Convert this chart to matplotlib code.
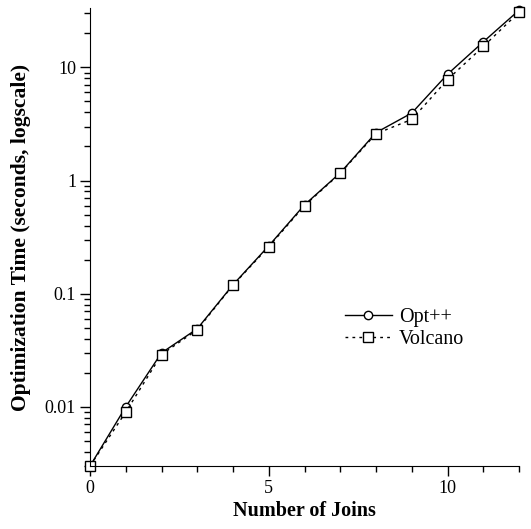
import numpy as np
import matplotlib.pyplot as plt
from matplotlib.ticker import LogLocator, NullFormatter, FixedLocator

plt.rcParams['font.family'] = ['Liberation Serif', 'DejaVu Serif']

joins = [0, 1, 2, 3, 4, 5, 6, 7, 8, 9, 10, 11, 12]
opt_pp = [0.003, 0.0100, 0.030, 0.049, 0.120, 0.265, 0.61, 1.17, 2.65, 3.95, 8.7, 16.8, 32.0]
volcano = [0.003, 0.0090, 0.029, 0.048, 0.119, 0.260, 0.60, 1.16, 2.59, 3.47, 7.8, 15.3, 30.7]

fig = plt.figure(figsize=(5.31, 5.29), dpi=100)
ax = fig.add_axes([0.1695, 0.119, 0.808, 0.866])

ax.plot(joins, opt_pp, '-', color='black', lw=1.0, marker='o', ms=6,
        mfc='white', mec='black', mew=1.0, label='Opt++', clip_on=False)
ax.plot(joins, volcano, color='black', lw=1.0, ls=(0, (2, 3)), marker='s', ms=6.5,
        mfc='white', mec='black', mew=1.0, label='Volcano', clip_on=False)

ax.set_yscale('log')
ax.set_xlim(0, 12)
ax.set_ylim(0.003, 33.5)

ax.spines['top'].set_visible(False)
ax.spines['right'].set_visible(False)

ax.set_xticks([0, 5, 10])
ax.xaxis.set_minor_locator(FixedLocator(range(0, 13)))
ax.set_yticks([0.01, 0.1, 1, 10])
ax.set_yticklabels(['0.01', '0.1', '1', '10'])
ax.yaxis.set_minor_locator(LogLocator(base=10, subs=np.arange(2, 10)))
ax.yaxis.set_minor_formatter(NullFormatter())

ax.tick_params(which='major', direction='out', length=7, width=1, labelsize=13, pad=3)
ax.tick_params(which='minor', direction='out', length=4, width=1)

ax.set_xlabel('Number of Joins', fontsize=14.5, fontweight='bold', labelpad=3)
ax.set_ylabel('Optimization Time (seconds, logscale)', fontsize=15.5, fontweight='bold', labelpad=10)

ax.legend(loc='center left', bbox_to_anchor=(0.594, 0.30), frameon=False,
          fontsize=14.5, handlelength=2.33, handletextpad=0.35, labelspacing=0.15,
          borderpad=0, borderaxespad=0)

fig.savefig('out.png', dpi=100)
